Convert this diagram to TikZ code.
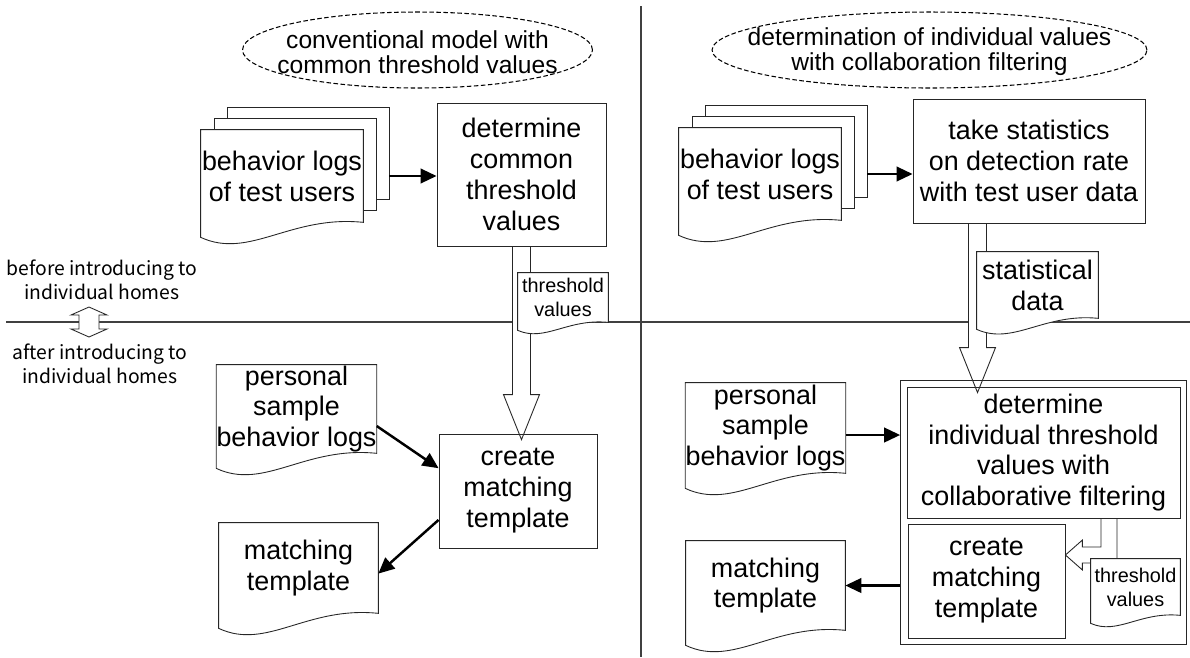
\documentclass[tikz,border=0pt]{standalone}
\usepackage{fontspec}
\setmainfont{Liberation Sans}
\newfontfamily\gothic{Noto Sans CJK JP}
\usetikzlibrary{arrows.meta, positioning, calc, fit}

\pgfdeclarelayer{rules}
\pgfdeclarelayer{paper}
\pgfsetlayers{rules,paper,main}

% hollow block arrow pointing down: #1 top of the shaft, #2 the tip
\newcommand\fatdown[2]{%
  \draw[fat] ($(#1)+(-9,0)$) -- ($(#2)+(-9,-45)$) -- ($(#2)+(-18,-45)$) -- (#2)
    -- ($(#2)+(18,-45)$) -- ($(#2)+(9,-45)$) -- ($(#1)+(9,0)$);}

\begin{document}
\begin{tikzpicture}[
    x=0.02cm, y=-0.02cm,
    every node/.style={inner sep=0pt},
    box/.style={draw=black!85, line width=0.5pt, rectangle, align=center, font=\fontsize{15.3}{17.6}\selectfont},
    doc/.style={rectangle, align=center, font=\fontsize{15.3}{17.6}\selectfont},
    smalldoc/.style={rectangle, align=center, font=\fontsize{11.3}{13.6}\selectfont},
    topic/.style={align=center, font=\fontsize{14}{14.2}\selectfont},
    phase/.style={align=center, font=\gothic\fontsize{11}{13.6}\selectfont},
    paperline/.style={draw=black!85, fill=white, line width=0.5pt},
    rule/.style={line width=0.8pt, black!75},
    fat/.style={draw=black!85, fill=white, line width=0.5pt},
    arrow/.style={-{Triangle[length=3.2mm, width=2.9mm]}, line width=1.4pt}
]
\useasboundingbox (0,0) rectangle (1190,657);

% --- conventional model (left half)
\node[topic] (capL) at (417.5,52) {conventional model with\\common threshold values};
\node[doc, minimum width=3.24cm, minimum height=1.84cm] (logsL) at (282,176) {behavior logs\\of test users};
\node[box, minimum width=3.38cm, minimum height=2.86cm] (detC) at (521.5,174.5) {determine\\common\\threshold\\values};
\node[smalldoc, minimum width=1.8cm, minimum height=0.98cm] (thrC) at (563,297.5) {threshold\\values};
\node[box, minimum width=3.16cm, minimum height=2.28cm] (mkC) at (518,491) {create\\matching\\template};
\node[doc, minimum width=3.18cm, minimum height=1.76cm] (persL) at (296.5,409) {personal\\sample\\behavior logs};
\node[doc, minimum width=3.18cm, minimum height=1.8cm] (matL) at (298.5,568) {matching\\template};

\node[phase] (before) at (102,280) {before introducing to\\individual homes};
\node[phase] (after) at (100,364) {after introducing to\\individual homes};

% --- collaborative filtering (right half)
\node[topic] (capR) at (929.5,52) {determination of individual values\\with collaboration filtering};
\node[doc, minimum width=3.24cm, minimum height=1.84cm] (logsR) at (760,174) {behavior logs\\of test users};
\node[box, minimum width=4.64cm, minimum height=2.48cm] (statR) at (1029,161) {take statistics\\on detection rate\\with test user data};
\node[doc, minimum width=2.42cm, minimum height=1.32cm] (statD) at (1037.5,285) {statistical\\data};
\node[box, minimum width=5.46cm, minimum height=2.62cm] (detI) at (1043.5,452.5) {determine\\individual threshold\\values with\\collaborative filtering};
\node[box, minimum width=3.14cm, minimum height=2.28cm] (mkI) at (986.5,581) {create\\matching\\template};
\node[draw=black!85, line width=0.5pt, fit=(detI) (mkI), inner sep=0.12cm] (frame) {};
\node[smalldoc, minimum width=1.78cm, minimum height=1.12cm] (thrR) at (1135.5,587) {threshold\\values};
\node[doc, minimum width=3.18cm, minimum height=1.8cm] (persR) at (765.5,428) {personal\\sample\\behavior logs};
\node[doc, minimum width=3.18cm, minimum height=1.78cm] (matR) at (765.5,585.5) {matching\\template};

\foreach \c/\rx in {capL/3.5cm, capR/4.35cm}
  \draw[dashed, dash pattern=on 2.6pt off 1.4pt, line width=0.6pt] ([yshift=0.04cm]\c) ellipse [x radius=\rx, y radius=0.76cm];

\coordinate (tipC) at ($(detC.south |- mkC.north)+(0,6)$);
\coordinate (dropR) at ([xshift=-1.03cm]statR.south);
\coordinate (tipR) at ($(dropR |- detI.north)+(0,6)$);
\coordinate (swap) at (89,322);

% dividers and block arrows underneath everything
\begin{pgfonlayer}{rules}
  \draw[rule] (641,6) -- (641,657);
  \draw[rule] (6,322) -- (1190,322);
  \draw[fat] ($(swap)+(0,-15)$) -- ++(18,8) -- ++(-8,0) -- ++(0,14) -- ++(8,0)
    -- ($(swap)+(0,15)$) -- ++(-18,-8) -- ++(8,0) -- ++(0,-14) -- ++(-8,0) -- cycle;
  \fatdown{detC.south}{tipC}
  \fatdown{dropR}{tipR}
  \draw[fat] ($(detI.south)+(57.5,0)$) |- ($(mkI.east)+(17,-34)$) -- ++(0,-7)
    -- ($(mkI.east)+(0,-26)$) -- ++(17,15) -- ++(0,-7) -| ($(detI.south)+(73.5,0)$);
\end{pgfonlayer}

% paper sheets: stacked pages first, then the wavy documents
\begin{pgfonlayer}{paper}
  \foreach \d in {logsL, logsR}
    \foreach \k in {2,1}
      \node[paperline, minimum width=3.24cm, minimum height=1.84cm] (\d\k) at ($(\d)+(13*\k,-11.5*\k)$) {};
  \foreach \d/\s in {logsL/15, thrC/8, persL/15, matL/15, logsR/15, statD/11, persR/15, matR/15, thrR/8}
    \draw[paperline] (\d.south east) -- (\d.north east) -- (\d.north west) -- ($(\d.south west)+(0,\s)$)
      .. controls ($(\d.south west)!0.3!(\d.south east)+(0,2.5*\s)$)
      and ($(\d.south west)!0.55!(\d.south east)+(0,-0.5*\s)$) .. (\d.south east) -- cycle;
\end{pgfonlayer}

\draw[arrow] (logsL.east -| logsL2.east) -- (logsL.east -| detC.west);
\draw[arrow] (persL.-12) -- (mkC.164);
\draw[arrow] (mkC.200) -- (matL.-4);
\draw[arrow] (logsR.east -| logsR2.east) -- (logsR.east -| statR.west);
\draw[arrow] ([yshift=-0.14cm]persR.east) -- ([yshift=-0.14cm]persR.east -| frame.west);
\draw[arrow] (frame.west |- matR.east) -- (matR.east);

\end{tikzpicture}
\end{document}
